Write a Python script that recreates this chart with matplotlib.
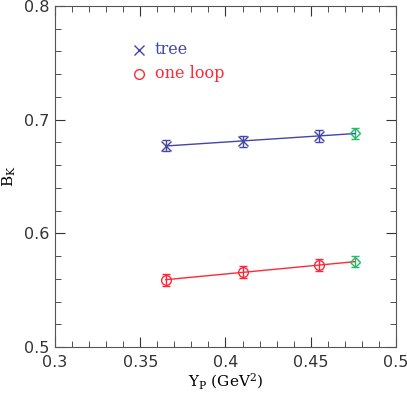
import numpy as np
import matplotlib.pyplot as plt
from matplotlib.ticker import MultipleLocator

plt.rcParams['mathtext.fontset'] = 'dejavuserif'

# data
yp = [0.365, 0.41, 0.455]
bk_tree = [0.677, 0.681, 0.6855]
err_tree = [0.005, 0.005, 0.005]
bk_loop = [0.559, 0.566, 0.572]
err_loop = [0.005, 0.005, 0.005]
# extrapolated (green) points
yp_ext = [0.476]
bk_tree_ext = [0.688]
err_tree_ext = [0.005]
bk_loop_ext = [0.575]
err_loop_ext = [0.005]

blue = '#4444aa'
red = '#ff2838'
green = '#22bb66'

fig = plt.figure(figsize=(4.07, 3.95), dpi=100)
ax = fig.add_axes([0.135, 0.1215, 0.838, 0.8635])

ax.errorbar(yp, bk_tree, yerr=err_tree, fmt='x', color=blue, ms=7, mew=1,
            capsize=3, elinewidth=1)
ax.errorbar(yp, bk_loop, yerr=err_loop, fmt='o', color=red, ms=7, mew=1,
            mfc='none', capsize=3, elinewidth=1)
ax.errorbar(yp_ext, bk_tree_ext, yerr=err_tree_ext, fmt='D', color=green, ms=5,
            mew=1, mfc='none', capsize=3, elinewidth=1)
ax.errorbar(yp_ext, bk_loop_ext, yerr=err_loop_ext, fmt='D', color=green, ms=5,
            mew=1, mfc='none', capsize=3, elinewidth=1)

# linear fits through the points
xx = np.array([yp[0], yp_ext[0]])
p = np.polyfit(yp + yp_ext, bk_tree + bk_tree_ext, 1)
ax.plot(xx, np.polyval(p, xx), color=blue, lw=1)
p = np.polyfit(yp + yp_ext, bk_loop + bk_loop_ext, 1)
ax.plot(xx, np.polyval(p, xx), color=red, lw=1)

# legend written as text
ax.plot([0.3495], [0.7615], 'x', color=blue, ms=7, mew=1)
ax.text(0.3585, 0.7615, 'tree', color=blue, family='DejaVu Serif', fontsize=11.5, va='center')
ax.plot([0.3495], [0.7405], 'o', color=red, ms=7, mew=1, mfc='none')
ax.text(0.3585, 0.7405, 'one loop', color=red, family='DejaVu Serif', fontsize=11.5, va='center')

ax.set_xlim(0.3, 0.5)
ax.set_ylim(0.5, 0.8)
ax.set_xticks([0.3, 0.35, 0.4, 0.45, 0.5])
ax.set_xticklabels(['0.3', '0.35', '0.4', '0.45', '0.5'])
ax.set_yticks([0.5, 0.6, 0.7, 0.8])
ax.set_yticklabels(['0.5', '0.6', '0.7', '0.8'])
ax.xaxis.set_minor_locator(MultipleLocator(0.01))
ax.yaxis.set_minor_locator(MultipleLocator(0.02))
ax.tick_params(which='both', direction='in', top=True, right=True, labelsize=11.5,
               colors='#333333')
ax.tick_params(which='major', length=7)
ax.tick_params(which='minor', length=4)
ax.tick_params(axis='x', pad=6)
ax.tick_params(axis='y', pad=4)
for s in ax.spines.values():
    s.set_color('#555555')

ax.set_xlabel(r'Y$_{\rm P}$ (GeV$^2$)', family='DejaVu Serif', fontsize=11, labelpad=1)
ax.set_ylabel(r'B$_{\rm K}$', family='DejaVu Serif', fontsize=11, labelpad=4)

fig.savefig('out.png', dpi=100)
